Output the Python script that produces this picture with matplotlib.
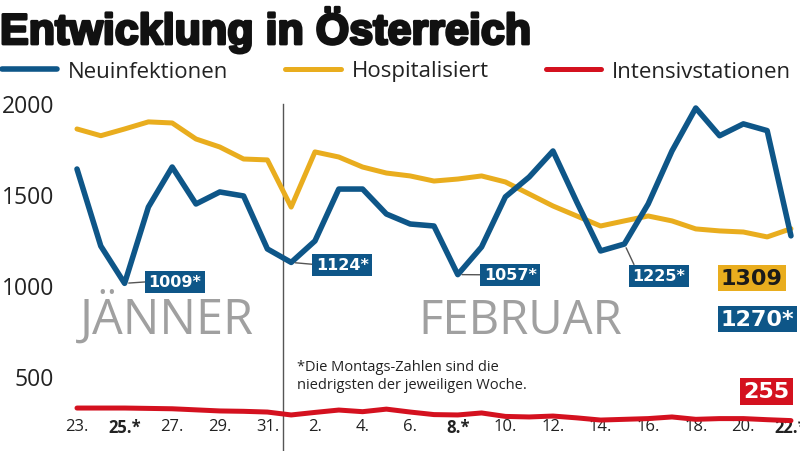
import numpy as np
import matplotlib.pyplot as plt
import matplotlib.patheffects as pe

# Daten: 23. Jänner bis 22. Februar (ein Wert pro Tag)
tage = np.arange(31)
tick_pos = np.arange(0, 31, 2)
tick_labels = ['23.', '25.*', '27.', '29.', '31.', '2.', '4.', '6.', '8.*',
               '10.', '12.', '14.', '16.', '18.', '20.', '22.*']

neuinfektionen = [1637, 1214, 1009, 1428, 1648, 1445, 1511, 1489, 1198, 1124,
                  1242, 1527, 1527, 1390, 1335, 1324, 1057, 1209, 1484, 1593,
                  1736, 1456, 1187, 1225, 1445, 1736, 1972, 1820, 1885, 1848, 1270]
hospitalisiert = [1857, 1820, 1857, 1896, 1890, 1802, 1758, 1692, 1687, 1428,
                  1731, 1703, 1648, 1615, 1599, 1571, 1582, 1599, 1566, 1500,
                  1434, 1379, 1324, 1352, 1379, 1352, 1308, 1297, 1291, 1264, 1309]
intensiv = [324, 324, 324, 322, 320, 314, 308, 306, 302, 286, 300, 313, 304,
            318, 302, 288, 286, 297, 278, 275, 280, 270, 258, 262, 266, 275,
            262, 266, 266, 260, 255]

# Montage (Tiefstwerte) mit Beschriftung
montage = [2, 9, 16, 23]

blau = '#0e5688'
gelb = '#e9ad1e'
rot = '#d4111f'
grau = '#a0a0a0'

plt.rcParams['font.family'] = ['Open Sans', 'DejaVu Sans']

fig = plt.figure(figsize=(8, 4.52), dpi=100)
ax = fig.add_axes([0, 0, 1, 1])
ax.set_xlim(-3.235, 30.38)
ax.set_ylim(88, 2571)
for s in ax.spines.values():
    s.set_visible(False)

ax.plot(tage, hospitalisiert, color=gelb, lw=3.6, label='Hospitalisiert', solid_capstyle='round', zorder=3)
ax.plot(tage, neuinfektionen, color=blau, lw=4.0, label='Neuinfektionen', solid_capstyle='round', zorder=4)
ax.plot(tage, intensiv, color=rot, lw=3.6, label='Intensivstationen', solid_capstyle='round', zorder=3)

# Monatsgrenze
ax.plot([8.66, 8.66], [1995, 0], color='#555555', lw=1.0, zorder=2)

# Achsen
ax.set_yticks([500, 1000, 1500, 2000])
ax.set_yticklabels(['500', '1000', '1500', '2000'])
ax.tick_params(axis='y', length=0, pad=-39, labelsize=16.5, labelcolor='#222222')
ax.set_xticks(tick_pos)
ax.set_xticklabels(tick_labels)
ax.tick_params(axis='x', length=0, pad=-24, labelsize=12, labelcolor='#222222')
for lab in ax.get_xticklabels():
    if '*' in lab.get_text():
        lab.set_fontweight('bold')

# Monatsnamen
ax.text(0.13, 738, 'JÄNNER', fontsize=35, color=grau, va='baseline', ha='left')
ax.text(14.35, 738, 'FEBRUAR', fontsize=34, color=grau, va='baseline', ha='left')

# Fußnote
ax.text(9.24, 593, '*Die Montags-Zahlen sind die\nniedrigsten der jeweiligen Woche.',
        fontsize=10.5, color='#222222', va='top', ha='left', linespacing=1.3)

# Montags-Beschriftungen
box_pos = [(4.12, 1018, (0, 0.5)), (11.15, 1112, (0, 0.5)),
           (18.2, 1056, (0, 0.5)), (24.45, 1052, (0.06, 1))]
for i, (bx, by, rp) in zip(montage, box_pos):
    ax.annotate(f'{neuinfektionen[i]}*', xy=(i, neuinfektionen[i]), xytext=(bx, by),
                ha='center', va='center', fontsize=11.5, fontweight='bold', color='white',
                family='DejaVu Sans',
                bbox=dict(boxstyle='square,pad=0.22', fc=blau, ec='none'),
                arrowprops=dict(arrowstyle='-', color='#555555', lw=1.0, relpos=rp,
                                shrinkA=0, shrinkB=3), zorder=5)

# Endwerte
ax.text(27.05, 1038, f'{hospitalisiert[-1]}', fontsize=16, fontweight='bold', color='#1a1a1a',
        family='DejaVu Sans', ha='left', va='center',
        bbox=dict(boxstyle='square,pad=0.14', fc=gelb, ec='none'), zorder=6)
ax.text(27.05, 813, f'{neuinfektionen[-1]}*', fontsize=16, fontweight='bold', color='white',
        family='DejaVu Sans', ha='left', va='center',
        bbox=dict(boxstyle='square,pad=0.14', fc=blau, ec='none'), zorder=6)
ax.text(28.0, 415, f'{intensiv[-1]}', fontsize=16, fontweight='bold', color='white',
        family='DejaVu Sans', ha='left', va='center',
        bbox=dict(boxstyle='square,pad=0.14', fc=rot, ec='none'), zorder=6)

# Titel und Legende
fig.text(0.0, 1 - 45 / 452, 'Entwicklung in Österreich', fontsize=31, fontweight='bold',
         family=['Liberation Sans', 'DejaVu Sans'], color='#111111', va='baseline',
         path_effects=[pe.withStroke(linewidth=2.0, foreground='#111111')])
handles, labels = ax.get_legend_handles_labels()
order = [1, 0, 2]
ax.legend([handles[k] for k in order], [labels[k] for k in order], ncol=3, frameon=False,
          loc='center left', bbox_to_anchor=(-0.012, 1 - 72 / 452), fontsize=16,
          handlelength=2.5, handletextpad=0.5, columnspacing=2.55, borderpad=0,
          labelcolor='#222222')

fig.savefig('out.png', dpi=100)
